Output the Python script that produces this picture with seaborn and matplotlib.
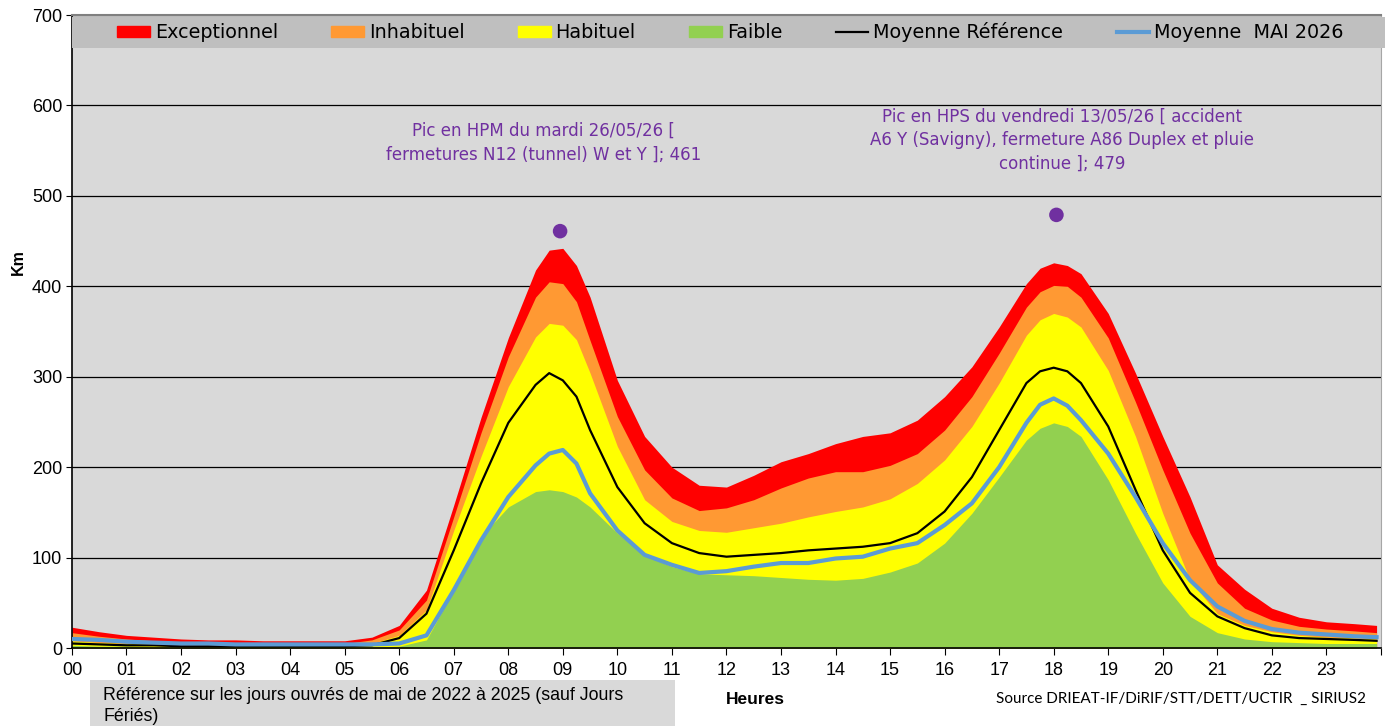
import pandas as pd
import matplotlib.pyplot as plt
import seaborn as sns
from matplotlib.patches import Rectangle
from matplotlib.lines import Line2D

# heures de la journee (lecture du graphique)
heures = [0, 0.5, 1, 1.5, 2, 2.5, 3, 3.5, 4, 4.5, 5, 5.5,
          6, 6.5, 7, 7.5, 8, 8.5, 8.75, 9, 9.25, 9.5,
          10, 10.5, 11, 11.5, 12, 12.5, 13, 13.5, 14, 14.5, 15, 15.5, 16, 16.5, 17, 17.5,
          17.75, 18, 18.25, 18.5,
          19, 19.5, 20, 20.5, 21, 21.5, 22, 22.5, 23, 23.5, 23.92]

exceptionnel = [23, 18, 14, 12, 10, 9, 9, 8, 8, 8, 8, 12,
                25, 64, 158, 255, 343, 418, 440, 442, 423, 388,
                296, 234, 200, 180, 178, 191, 206, 215, 226, 234, 238, 252, 278, 311, 355, 403,
                420, 426, 423, 414,
                370, 304, 234, 167, 92, 65, 44, 34, 29, 27, 25]
inhabituel = [17, 13, 10, 8, 7, 6, 6, 6, 6, 5, 5, 9,
              20, 53, 145, 238, 322, 388, 405, 403, 383, 340,
              256, 197, 166, 152, 155, 164, 177, 188, 195, 195, 202, 215, 241, 278, 326, 377,
              394, 401, 400, 388,
              343, 272, 197, 127, 72, 44, 31, 24, 21, 19, 17]
habituel = [8, 6, 5, 4, 3, 3, 3, 3, 3, 3, 3, 5,
            14, 42, 130, 212, 289, 344, 359, 357, 341, 304,
            223, 164, 140, 130, 128, 133, 138, 145, 151, 156, 165, 182, 208, 245, 293, 346,
            363, 370, 366, 355,
            307, 234, 149, 75, 38, 25, 18, 14, 12, 11, 10]
faible = [3, 2, 2, 1, 1, 1, 1, 1, 1, 1, 1, 1,
          2, 9, 64, 123, 156, 173, 175, 173, 167, 156,
          127, 103, 90, 82, 81, 80, 78, 76, 75, 77, 84, 94, 116, 149, 189, 230,
          243, 249, 245, 234,
          186, 127, 72, 35, 17, 10, 7, 6, 5, 5, 5]
moy_ref = [5, 4, 3, 3, 2, 2, 2, 2, 2, 2, 2, 3,
           11, 38, 108, 182, 249, 291, 304, 296, 278, 241,
           178, 138, 116, 105, 101, 103, 105, 108, 110, 112, 116, 127, 151, 189, 241, 293,
           306, 310, 306, 293,
           245, 175, 108, 61, 35, 22, 14, 11, 10, 9, 8]
moy_mai = [10, 9, 7, 6, 5, 5, 4, 4, 4, 4, 4, 4,
           5, 14, 64, 119, 167, 202, 215, 219, 204, 171,
           130, 103, 92, 83, 85, 90, 94, 94, 99, 101, 110, 116, 136, 160, 200, 249,
           269, 276, 268, 252,
           215, 167, 116, 75, 46, 30, 21, 17, 15, 13, 12]

pic_heures = [8.95, 18.05]
pic_valeurs = [461, 479]
pic_textes = ["Pic en HPM du mardi 26/05/26 [\nfermetures N12 (tunnel) W et Y ]; 461",
              "Pic en HPS du vendredi 13/05/26 [ accident\nA6 Y (Savigny), fermeture A86 Duplex et pluie\ncontinue ]; 479"]
texte_x = [8.65, 18.15]
texte_y = [582, 598]

x_labels = ["%02d" % h for h in range(24)]
legende = ["Exceptionnel", "Inhabituel", "Habituel", "Faible", "Moyenne Référence", "Moyenne  MAI 2026"]

df = pd.DataFrame({"h": heures, "ref": moy_ref, "mai": moy_mai})
pics = pd.DataFrame({"h": pic_heures, "v": pic_valeurs})

plt.rcParams["font.family"] = ["Liberation Sans", "DejaVu Sans"]

fig = plt.figure(figsize=(13.89, 7.26), dpi=100)
ax = fig.add_axes([0.0518, 0.1074, 0.9424, 0.8719])
ax.set_facecolor("#D9D9D9")

ax.fill_between(heures, 0, exceptionnel, color="#FF0000", lw=0, zorder=2)
ax.fill_between(heures, 0, inhabituel, color="#FF9933", lw=0, zorder=2)
ax.fill_between(heures, 0, habituel, color="#FFFF00", lw=0, zorder=2)
ax.fill_between(heures, 0, faible, color="#92D050", lw=0, zorder=2)

sns.lineplot(data=df, x="h", y="ref", color="black", lw=1.6, ax=ax, zorder=4)
sns.lineplot(data=df, x="h", y="mai", color="#5B9BD5", lw=3, ax=ax, zorder=5)
for l in ax.lines:
    l.set_solid_joinstyle("round")

sns.scatterplot(data=pics, x="h", y="v", color="#7030A0", s=110, edgecolor="none", ax=ax, zorder=6)
for tx, ty, txt in zip(texte_x, texte_y, pic_textes):
    ax.text(tx, ty, txt, ha="center", va="top", color="#7030A0", fontsize=12,
            family=["DejaVu Sans"], linespacing=1.42)

ax.set_xlim(0, 24)
ax.set_ylim(0, 700)
ax.set_xticks(list(range(25)))
ax.set_xticklabels(x_labels + [""], fontsize=13)
ax.set_yticks(range(0, 701, 100))
ax.tick_params(axis="y", labelsize=13, length=4, direction="out", pad=3)
ax.tick_params(axis="x", length=5, direction="out", pad=5)
ax.yaxis.grid(True, color="black", lw=0.9)
ax.set_axisbelow(True)
ax.set_xlabel("")
ax.set_ylabel("Km", fontweight="bold", fontsize=11.5)
ax.yaxis.set_label_coords(-0.035, 0.61)
for s in ["left", "bottom"]:
    ax.spines[s].set_color("black")
    ax.spines[s].set_linewidth(1.2)
ax.spines["top"].set_color("#808080")
ax.spines["top"].set_linewidth(1.5)
ax.spines["right"].set_color("#A6A6A6")

# bandeau de legende
ax.add_patch(Rectangle((0, 0.948), 1.003, 0.049, transform=ax.transAxes, facecolor="#BFBFBF",
                       edgecolor="none", zorder=7, clip_on=False))
handles = [Rectangle((0, 0), 1, 1, color="#FF0000"),
           Rectangle((0, 0), 1, 1, color="#FF9933"),
           Rectangle((0, 0), 1, 1, color="#FFFF00"),
           Rectangle((0, 0), 1, 1, color="#92D050"),
           Line2D([], [], color="black", lw=1.6),
           Line2D([], [], color="#5B9BD5", lw=3)]
leg = ax.legend(handles, legende, loc="center", bbox_to_anchor=(0.503, 0.973), ncol=6, frameon=False,
                prop={"family": ["DejaVu Sans"], "size": 13.8}, handlelength=1.7,
                handleheight=0.55, handletextpad=0.25, columnspacing=2.8)
leg.set_zorder(8)

fig.patches.append(Rectangle((0.0648, 0.0), 0.4212, 0.063, transform=fig.transFigure,
                             facecolor="#D9D9D9", edgecolor="none"))
fig.text(0.0742, 0.0275, "Référence sur les jours ouvrés de mai de 2022 à 2025 (sauf Jours\nFériés)",
         fontsize=12.8, va="center", ha="left", linespacing=1.35)
fig.text(0.5435, 0.037, "Heures", fontweight="bold", fontsize=12.5, ha="center", va="center")
fig.text(0.9835, 0.037, "Source DRIEAT-IF/DiRIF/STT/DETT/UCTIR  _ SIRIUS2", fontsize=11,
         ha="right", va="center", family=["Lato", "DejaVu Sans"])

fig.savefig("out.png", dpi=100)
